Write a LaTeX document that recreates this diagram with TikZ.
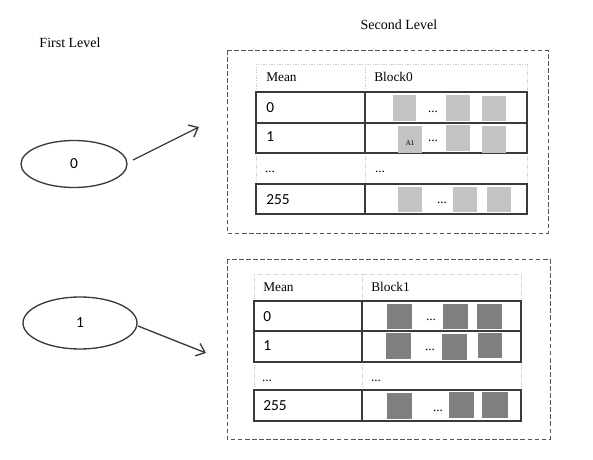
\documentclass[tikz,border=0pt]{standalone}
\usepackage{fontspec}
\setmainfont{Liberation Serif}
\newfontfamily\calib{Carlito}
\usetikzlibrary{shapes.geometric,arrows.meta}
\definecolor{lightsq}{HTML}{C3C3C3}
\definecolor{darksq}{HTML}{7F7F7F}
\definecolor{rule}{HTML}{3A3A3A}
\definecolor{dashgray}{HTML}{555555}
\definecolor{dotgray}{HTML}{C8C8C8}
\tikzset{
  levellabel/.style={font=\fontsize{10.5pt}{12pt}\selectfont, inner sep=0pt},
  hdr/.style={font=\fontsize{10pt}{12pt}\selectfont, anchor=base west, inner sep=0pt},
  num/.style={font=\calib\fontsize{11.5pt}{13pt}\selectfont, anchor=base west, inner sep=0pt},
  dots/.style={font=\fontsize{10pt}{12pt}\selectfont, anchor=base, inner sep=0pt},
  dashbox/.style={draw=dashgray, line width=0.7pt, dash pattern=on 3.5pt off 1.8pt},
  solidrow/.style={draw=rule, line width=1.2pt},
  lightrow/.style={draw=dotgray, line width=0.7pt, dash pattern=on 1pt off 1pt},
  sqA/.style={fill=lightsq},
  sqB/.style={fill=darksq},
  lvl/.style={ellipse, draw=rule, line width=1pt, font=\calib\fontsize{11.5pt}{13pt}\selectfont},
  link/.style={draw=rule, line width=1pt, -{Straight Barb[length=6pt,width=10pt]}},
}
\begin{document}
\begin{tikzpicture}[x=0.75pt,y=-0.75pt]
\useasboundingbox (0,0) rectangle (593,460);

% level titles
\node[levellabel] (first) at (70,43) {First Level};
\node[levellabel] (second) at (399,25) {Second Level};

% first-level ellipses
\node[lvl, minimum width=79.5pt, minimum height=35.25pt] (e0) at (74,164) {0};
\node[lvl, minimum width=85.5pt, minimum height=39pt] (e1) at (80,323) {1};
\coordinate (s0) at (133,160);
\coordinate (t0) at (199,127);
\coordinate (s1) at (138,326);
\coordinate (t1) at (206,353);
\draw[link] (s0) -- (t0);
\draw[link] (s1) -- (t1);

% ===== Block0 =====
\draw[dashbox] (227,50) rectangle (548,233);
% header row
\draw[lightrow] (256,64) rectangle (527,92);
\draw[lightrow] (365,64) -- (365,92);
% dots row sides
\draw[lightrow] (256,153) -- (256,184);
\draw[lightrow] (527,153) -- (527,184);
\draw[lightrow] (365,153) -- (365,184);
% solid rows
\draw[solidrow] (256,92) rectangle (527,153);
\draw[solidrow] (256,123) -- (527,123);
\draw[solidrow] (365,92) -- (365,153);
\draw[solidrow] (256,184) rectangle (527,214);
\draw[solidrow] (365,184) -- (365,214);
% texts
\node[hdr] (m0) at (266,82) {Mean};
\node[hdr] (b0) at (374,82) {Block0};
\node[num] (r00) at (266,113) {0};
\node[num] (r01) at (266,142) {1};
\node[dots] (r0d) at (270,172) {...};
\node[dots] (c0d) at (380,172) {...};
\node[num] (r0l) at (266,204) {255};
% squares
\fill[sqA] (393,95) rectangle (416,121);
\fill[sqA] (446,95) rectangle (470,121);
\fill[sqA] (482,96) rectangle (506,121);
\node[dots] (d00) at (433,113) {...};
\fill[sqA] (398,126) rectangle (422,153);
\node[font=\fontsize{5.5pt}{6pt}\selectfont, inner sep=0pt] (a1) at (410,143) {A1};
\fill[sqA] (446,125) rectangle (470,151);
\fill[sqA] (482,126) rectangle (506,153);
\node[dots] (d01) at (433,142) {...};
\fill[sqA] (398,187) rectangle (422,212);
\fill[sqA] (453,187) rectangle (477,212);
\fill[sqA] (487,187) rectangle (511,212);
\node[dots] (d0l) at (442,203) {...};

% ===== Block1 =====
\draw[dashbox] (227,259) rectangle (550,439);
\draw[lightrow] (254,274) rectangle (521,301);
\draw[lightrow] (362,274) -- (362,301);
\draw[lightrow] (254,362) -- (254,390);
\draw[lightrow] (521,362) -- (521,390);
\draw[lightrow] (362,362) -- (362,390);
\draw[solidrow] (254,301) rectangle (521,362);
\draw[solidrow] (254,331) -- (521,331);
\draw[solidrow] (362,301) -- (362,362);
\draw[solidrow] (254,390) rectangle (521,421);
\draw[solidrow] (362,390) -- (362,421);
\node[hdr] (m1) at (263,291) {Mean};
\node[hdr] (b1) at (371,291) {Block1};
\node[num] (r10) at (263,321) {0};
\node[num] (r11) at (263,350) {1};
\node[dots] (r1d) at (267,381) {...};
\node[dots] (c1d) at (376,381) {...};
\node[num] (r1l) at (263,410) {255};
\fill[sqB] (387,304) rectangle (412,329);
\fill[sqB] (443,304) rectangle (468,329);
\fill[sqB] (477,304) rectangle (502,329);
\node[dots] (d10) at (431,320) {...};
\fill[sqB] (386,333) rectangle (411,359);
\fill[sqB] (442,334) rectangle (467,360);
\fill[sqB] (478,333) rectangle (502,358);
\node[dots] (d11) at (430,350) {...};
\fill[sqB] (387,393) rectangle (412,419);
\fill[sqB] (449,392) rectangle (474,418);
\fill[sqB] (482,392) rectangle (508,418);
\node[dots] (d1l) at (438,411) {...};
\end{tikzpicture}
\end{document}
